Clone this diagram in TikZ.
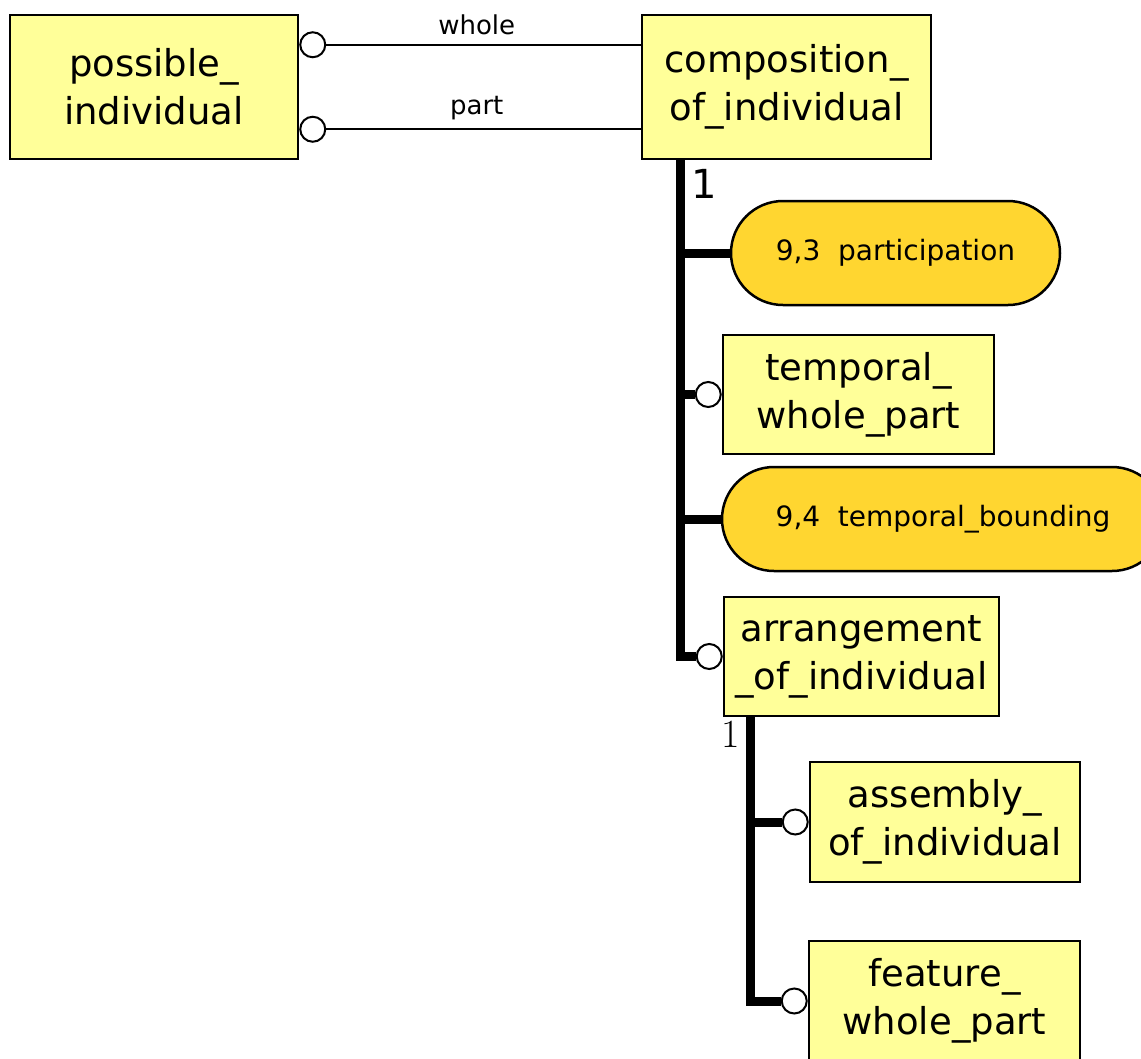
\documentclass[tikz,border=0pt]{standalone}
\usepackage{fontspec}
\newfontfamily\dvs{DejaVu Sans}
\usetikzlibrary{positioning,calc}
\definecolor{entity}{RGB}{255,255,153}
\definecolor{activity}{RGB}{255,214,48}

\begin{document}
\begin{tikzpicture}[
    x=1pt, y=-1pt,
    entity/.style={rectangle, draw, line width=2.5pt, fill=entity, inner sep=0pt,
                   align=center, font=\dvs\fontsize{37}{48}\selectfont},
    activity/.style={rectangle, rounded corners=52pt, draw, line width=2.5pt, fill=activity,
                     inner sep=0pt, minimum height=104pt, font=\dvs\fontsize{28}{32}\selectfont},
    ring/.style={circle, draw, line width=2pt, fill=white, minimum size=25pt, inner sep=0pt},
    rel/.style={line width=2pt},
    spine/.style={line width=9pt, line join=miter},
    role/.style={font=\dvs\fontsize{26}{30}\selectfont}
]
    \useasboundingbox (0,0) rectangle (1141,1058);

    % Entities
    \node[entity, minimum width=288pt, minimum height=144pt] (possible) at (154,87) {possible\_\\individual};
    \node[entity, minimum width=289pt, minimum height=144pt] (composition) at (786.5,87) {composition\_\\of\_individual};
    \node[entity, minimum width=271pt, minimum height=119pt] (temporal) at (858.5,394.5) {temporal\_\\whole\_part};
    \node[entity, minimum width=275pt, minimum height=119pt] (arrangement) at (861.5,656.5) {arrangement\\\_of\_individual};
    \node[entity, minimum width=270pt, minimum height=120pt] (assembly) at (945,822) {assembly\_\\of\_individual};
    \node[entity, minimum width=271pt, minimum height=120pt] (feature) at (944.5,1001) {feature\_\\whole\_part};

    % Activities
    \node[activity, minimum width=329pt] (participation) at (895.5,253) {9,3\ \ participation};
    \node[activity, minimum width=442pt] (bounding) at (943,519) {9,4\ \ temporal\_bounding};

    % Roles
    \node[ring, anchor=west] (whole) at ([yshift=-31pt]possible.north east) {};
    \node[ring, anchor=west] (part) at ([yshift=31pt]possible.south east) {};
    \draw[rel] (whole) -- (whole -| composition.west);
    \draw[rel] (part) -- (part -| composition.west);
    \node[role, above=6pt of $(whole)!0.5!(whole -| composition.west)$] (wholelbl) {whole};
    \node[role, above=6pt of $(part)!0.5!(part -| composition.west)$] (partlbl) {part};

    % Subtypes of composition_of_individual
    \coordinate (s1) at ([xshift=40pt]composition.south west);
    \node[ring, anchor=east] (rtemp) at (temporal.west) {};
    \node[ring, anchor=east] (rarr) at (arrangement.west) {};
    \draw[spine] (s1) |- (rarr);
    \draw[spine] (s1 |- participation.west) -- (participation.west);
    \draw[spine] (s1 |- rtemp) -- (rtemp);
    \draw[spine] (s1 |- bounding.west) -- (bounding.west);
    \node[font=\dvs\fontsize{40}{44}\selectfont] (one1) at (704,184) {1};

    % Subtypes of arrangement_of_individual
    \coordinate (s2) at ([xshift=28pt]arrangement.south west);
    \node[ring, anchor=east] (rasm) at (assembly.west) {};
    \node[ring, anchor=east] (rfeat) at (feature.west) {};
    \draw[spine] (s2) |- (rfeat);
    \draw[spine] (s2 |- rasm) -- (rasm);
    \node[font=\fontsize{40}{44}\selectfont] (one2) at (731,734) {1};
\end{tikzpicture}
\end{document}
